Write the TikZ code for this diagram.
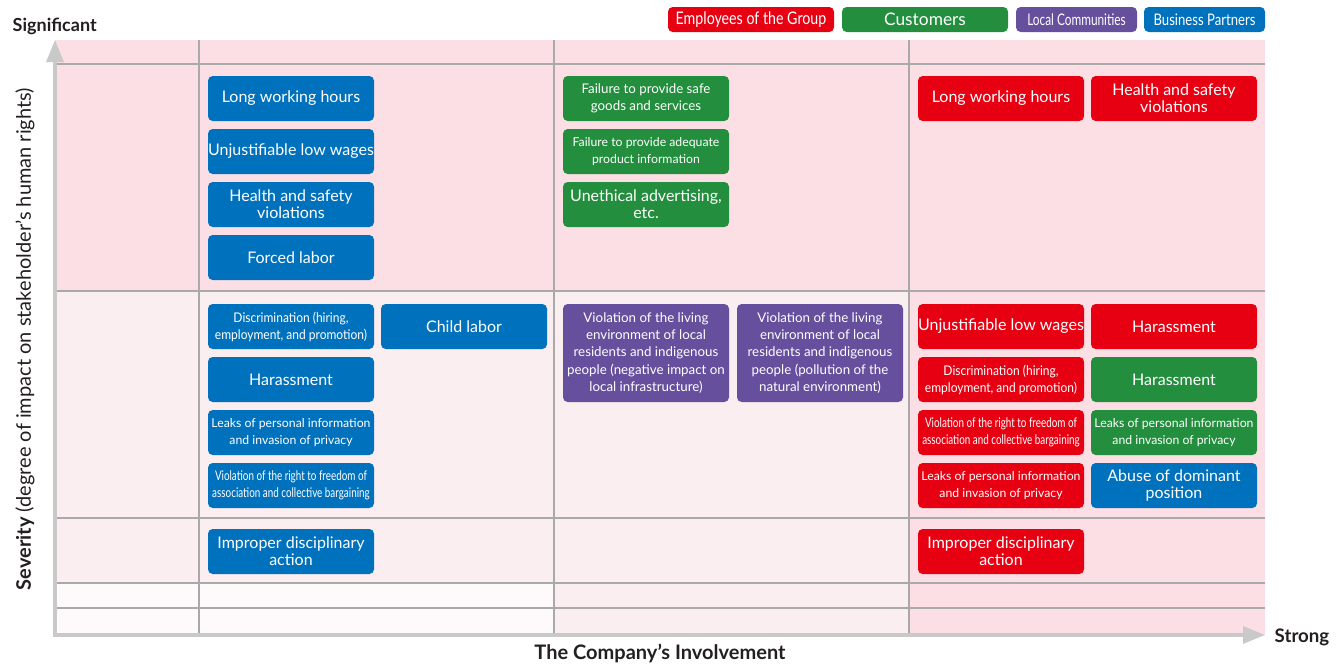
\documentclass[tikz,border=0pt]{standalone}
\usepackage{fontspec}
\setmainfont{Lato}
\newfontfamily\narrowfont[FakeStretch=0.82]{Lato}
\newfontfamily\trimfont[FakeStretch=0.9]{Lato}
\newfontfamily\slimfont[FakeStretch=0.74]{Lato}
\usepackage{tikz}
\usetikzlibrary{arrows.meta}
\definecolor{empred}{HTML}{E60012}
\definecolor{cusgreen}{HTML}{238E3D}
\definecolor{locpurple}{HTML}{664F9D}
\definecolor{bizblue}{HTML}{0071BC}
\definecolor{hotpink}{HTML}{FCDFE4}
\definecolor{warmpink}{HTML}{FBEEF0}
\definecolor{palepink}{HTML}{FEFAFB}
\definecolor{gridgray}{HTML}{A9A9A9}
\definecolor{axisgray}{HTML}{C9C9C9}
\definecolor{ink}{HTML}{231F20}

\begin{document}
\begin{tikzpicture}[x=0.75pt,y=-0.75pt,
  gridline/.style={draw=gridgray,line width=1.1pt},
  axis/.style={draw=axisgray,line width=2.4pt,line join=miter},
  axislabel/.style={text=ink,font=\fontsize{13.5}{15}\selectfont\bfseries},
  risk/.style={rounded corners=3.5pt,minimum width=124.5pt,minimum height=33.75pt,inner sep=0pt,
    text=white,align=center,font=\fontsize{12}{12.75}\selectfont},
  mid/.style={font=\fontsize{9.2}{12.75}\selectfont},
  narrow/.style={font=\fontsize{10}{12.75}\trimfont},
  slim/.style={font=\fontsize{10}{12.75}\slimfont},
  tall/.style={minimum height=73.5pt,font=\fontsize{10}{13}\selectfont},
  employee/.style={risk,fill=empred},
  customer/.style={risk,fill=cusgreen},
  community/.style={risk,fill=locpurple},
  partner/.style={risk,fill=bizblue},
  legend/.style={rounded corners=3.5pt,minimum height=18.75pt,inner sep=0pt,text=white,
    font=\fontsize{12}{14}\narrowfont}]
\useasboundingbox (0,0) rectangle (1343,664);
% background of the matrix
\fill[hotpink] (55,40) rectangle (1265,291); \fill[hotpink] (909,291) rectangle (1265,635);
\fill[warmpink] (55,291) rectangle (909,583); \fill[warmpink] (554,583) rectangle (909,635);
\fill[palepink] (55,583) rectangle (554,635);
% grid
\draw[gridline] (55,64) -- (1265,64); \draw[gridline] (55,291) -- (1265,291);
\draw[gridline] (55,518) -- (1265,518); \draw[gridline] (55,583) -- (1265,583);
\draw[gridline] (55,608) -- (1265,608);
\draw[gridline] (199,40) -- (199,635); \draw[gridline] (554,40) -- (554,635);
\draw[gridline] (909,40) -- (909,635);
% axes
\draw[axis,{Triangle[length=16.5pt,width=12.75pt]}-{Triangle[length=16.5pt,width=12.75pt]}]
  (55,40) -- (55,635) -- (1265,635);
\node[axislabel,anchor=west] (significant) at (8,26) {Significant};
\node[axislabel,anchor=west,font=\fontsize{14}{15}\selectfont\bfseries] (strong) at (1270,637) {Strong};
\node[text=ink,font=\fontsize{15}{17}\selectfont\bfseries] (involvement) at (660,653) {The Company’s Involvement};
\node[text=ink,rotate=90,font=\fontsize{15}{17}\selectfont] (severity) at (25,339)
  {\textbf{Severity} (degree of impact on stakeholder’s human rights)};
% legend
\node[legend,fill=empred,minimum width=124.5pt,font=\fontsize{13}{14}\narrowfont] (legEmp) at (751,19.5) {Employees of the Group};
\node[legend,fill=cusgreen,minimum width=124.5pt,font=\fontsize{13}{14}\selectfont] (legCus) at (925,19.5) {Customers};
\node[legend,fill=locpurple,minimum width=90.75pt,font=\fontsize{12}{14}\slimfont] (legLoc) at (1076.5,19.5) {Local Communities};
\node[legend,fill=bizblue,minimum width=90.75pt] (legBiz) at (1204.5,19.5) {Business Partners};
% business partners
\node[partner] (bizHours) at (291,98.5) {Long working hours};
\node[partner] (bizWages) at (291,151.5) {Unjustifiable low wages};
\node[partner] (bizHealth) at (291,204.5) {Health and safety\\violations};
\node[partner] (bizForced) at (291,257.5) {Forced labor};
\node[partner,narrow] (bizDiscrim) at (291,326.5) {Discrimination (hiring,\\employment, and promotion)};
\node[partner] (bizChild) at (464,326.5) {Child labor};
\node[partner] (bizHarass) at (291,379.5) {Harassment};
\node[partner,mid] (bizLeaks) at (291,432.5) {Leaks of personal information\\and invasion of privacy};
\node[partner,slim] (bizUnion) at (291,485.5) {Violation of the right to freedom of\\association and collective bargaining};
\node[partner] (bizDiscipline) at (291,551.5) {Improper disciplinary\\action};
\node[partner] (bizAbuse) at (1174,485.5) {Abuse of dominant\\position};
% customers
\node[customer,font=\fontsize{10}{12.75}\selectfont] (cusSafe) at (646,98.5) {Failure to provide safe\\goods and services};
\node[customer,mid] (cusInfo) at (646,151.5) {Failure to provide adequate\\product information};
\node[customer] (cusAds) at (646,204.5) {Unethical advertising,\\etc.};
\node[customer] (cusHarass) at (1174,379.5) {Harassment};
\node[customer,mid] (cusLeaks) at (1174,432.5) {Leaks of personal information\\and invasion of privacy};
% local communities
\node[community,tall] (locInfra) at (646,353) {Violation of the living\\environment of local\\residents and indigenous\\people (negative impact on\\local infrastructure)};
\node[community,tall] (locNature) at (820,353) {Violation of the living\\environment of local\\residents and indigenous\\people (pollution of the\\natural environment)};
% employees of the group
\node[employee] (empHours) at (1001,98.5) {Long working hours};
\node[employee] (empHealth) at (1174,98.5) {Health and safety\\violations};
\node[employee] (empWages) at (1001,326.5) {Unjustifiable low wages};
\node[employee] (empHarass) at (1174,326.5) {Harassment};
\node[employee,narrow] (empDiscrim) at (1001,379.5) {Discrimination (hiring,\\employment, and promotion)};
\node[employee,slim] (empUnion) at (1001,432.5) {Violation of the right to freedom of\\association and collective bargaining};
\node[employee,mid] (empLeaks) at (1001,485.5) {Leaks of personal information\\and invasion of privacy};
\node[employee] (empDiscipline) at (1001,551.5) {Improper disciplinary\\action};
\end{tikzpicture}
\end{document}
